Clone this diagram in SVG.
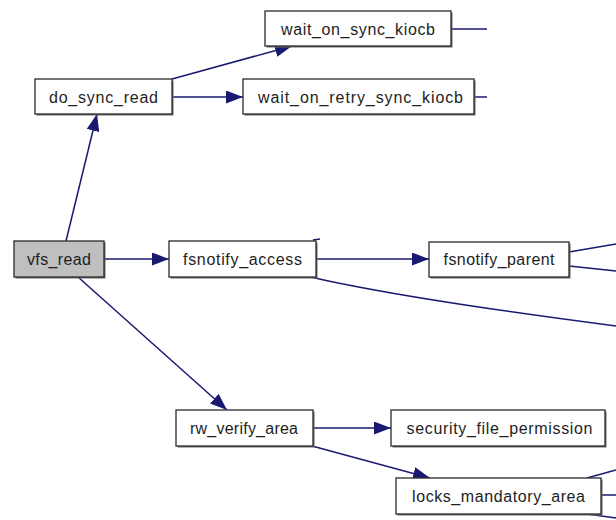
<svg xmlns="http://www.w3.org/2000/svg" width="616" height="520" viewBox="0 0 616 520">
  <style>
    .box { fill: #ffffff; stroke: #2a2a2a; stroke-width: 1.3; }
    .box.cur { fill: #bfbfbf; }
    .sh { fill: #6a6a6a; }
    .lbl { font-family: "Liberation Sans", Arial, Helvetica, sans-serif; font-size: 16px; fill: #1e1e1e; text-anchor: middle; }
    .edge { fill: none; stroke: #191970; stroke-width: 1.5; }
    .arr { marker-end: url(#head); }
  </style>
  <defs>
    <marker id="head" markerUnits="userSpaceOnUse" markerWidth="18" markerHeight="13" refX="17" refY="6.5" orient="auto">
      <path d="M0,0 L17,6.5 L0,13 Z" fill="#191970"/>
    </marker>
  </defs>

  <g id="connectors">
    <line class="edge arr" x1="66" y1="241" x2="97" y2="114"/>
    <line class="edge arr" x1="172" y1="79" x2="292" y2="46"/>
    <line class="edge arr" x1="172" y1="97" x2="243" y2="97"/>
    <line class="edge" x1="451" y1="29" x2="487" y2="29"/>
    <line class="edge" x1="474" y1="97" x2="487" y2="97"/>
    <line class="edge arr" x1="104" y1="259" x2="169" y2="259"/>
    <line class="edge arr" x1="316" y1="259" x2="429" y2="259"/>
    <line class="edge" x1="313" y1="240" x2="320" y2="239"/>
    <path class="edge" d="M311,277 Q400,298 616,326"/>
    <line class="edge" x1="569" y1="252" x2="616" y2="244"/>
    <line class="edge" x1="569" y1="266" x2="616" y2="271"/>
    <line class="edge arr" x1="78" y1="277" x2="227" y2="410"/>
    <line class="edge arr" x1="313" y1="428" x2="391" y2="428"/>
    <line class="edge arr" x1="312" y1="446" x2="430" y2="478"/>
    <line class="edge" x1="587" y1="478" x2="616" y2="470"/>
    <line class="edge" x1="601" y1="495" x2="616" y2="495"/>
    <line class="edge" x1="587" y1="514" x2="616" y2="518"/>
  </g>

  <g id="vfs_read">
    <rect class="sh" x="15.5" y="242.5" width="90" height="36"/>
    <rect class="box cur" x="14" y="241" width="90" height="36"/>
    <text class="lbl" x="59" y="265" textLength="64" lengthAdjust="spacing">vfs_read</text>
  </g>
  <g id="do_sync_read">
    <rect class="sh" x="36.5" y="80.5" width="137" height="35"/>
    <rect class="box" x="35" y="79" width="137" height="35"/>
    <text class="lbl" x="103.5" y="103" textLength="109" lengthAdjust="spacing">do_sync_read</text>
  </g>
  <g id="wait_on_sync_kiocb">
    <rect class="sh" x="266.5" y="12.5" width="186" height="35"/>
    <rect class="box" x="265" y="11" width="186" height="35"/>
    <text class="lbl" x="358" y="35" textLength="154" lengthAdjust="spacing">wait_on_sync_kiocb</text>
  </g>
  <g id="wait_on_retry_sync_kiocb">
    <rect class="sh" x="244.5" y="80.5" width="231" height="35"/>
    <rect class="box" x="243" y="79" width="231" height="35"/>
    <text class="lbl" x="360.5" y="103" textLength="205" lengthAdjust="spacing">wait_on_retry_sync_kiocb</text>
  </g>
  <g id="fsnotify_access">
    <rect class="sh" x="170.5" y="242.5" width="147" height="36"/>
    <rect class="box" x="169" y="241" width="147" height="36"/>
    <text class="lbl" x="242.5" y="265" textLength="119" lengthAdjust="spacing">fsnotify_access</text>
  </g>
  <g id="fsnotify_parent">
    <rect class="sh" x="430.5" y="243.5" width="140" height="35"/>
    <rect class="box" x="429" y="242" width="140" height="35"/>
    <text class="lbl" x="499" y="265" textLength="111" lengthAdjust="spacing">fsnotify_parent</text>
  </g>
  <g id="rw_verify_area">
    <rect class="sh" x="177.5" y="411.5" width="137" height="36"/>
    <rect class="box" x="176" y="410" width="137" height="36"/>
    <text class="lbl" x="244" y="434" textLength="108" lengthAdjust="spacing">rw_verify_area</text>
  </g>
  <g id="security_file_permission">
    <rect class="sh" x="392.5" y="411.5" width="214" height="36"/>
    <rect class="box" x="391" y="410" width="214" height="36"/>
    <text class="lbl" x="499.5" y="434" textLength="186" lengthAdjust="spacing">security_file_permission</text>
  </g>
  <g id="locks_mandatory_area">
    <rect class="sh" x="397.5" y="479.5" width="205" height="36"/>
    <rect class="box" x="396" y="478" width="205" height="36"/>
    <text class="lbl" x="498.5" y="502" textLength="173" lengthAdjust="spacing">locks_mandatory_area</text>
  </g>
</svg>
